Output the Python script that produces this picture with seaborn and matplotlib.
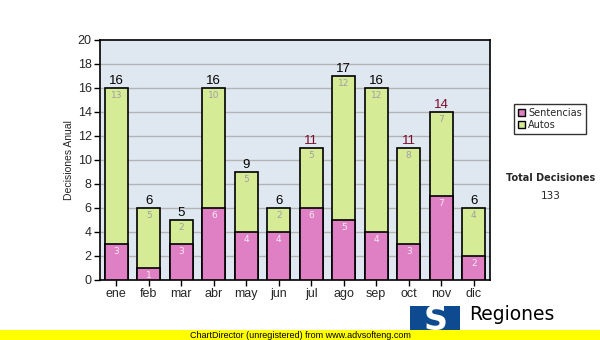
import matplotlib
matplotlib.use("Agg")
import matplotlib.pyplot as plt
import seaborn as sns
import pandas as pd
from matplotlib.patches import Rectangle

meses = ["ene", "feb", "mar", "abr", "may", "jun", "jul", "ago", "sep", "oct", "nov", "dic"]
sentencias = [3, 1, 3, 6, 4, 4, 6, 5, 4, 3, 7, 2]
autos = [13, 5, 2, 10, 5, 2, 5, 12, 12, 8, 7, 4]
y_ticks = [0, 2, 4, 6, 8, 10, 12, 14, 16, 18, 20]

totales = [s + a for s, a in zip(sentencias, autos)]
df = pd.DataFrame({"mes": meses, "Sentencias": sentencias, "Autos": autos, "Total": totales})

sns.set_style("white")
plt.rcParams["font.family"] = ["Liberation Sans", "DejaVu Sans"]

PINK = "#de80c3"
GREEN = "#d5eb96"
BG = "#dfe8f1"

fig = plt.figure(figsize=(6, 3.4), dpi=100)
fig.patch.set_facecolor("white")
ax = fig.add_axes([100 / 600, 60 / 340, 390 / 600, 240 / 340])
ax.set_facecolor(BG)

for t in y_ticks[1:-1]:
    ax.axhline(t, color="#b4b4b4", lw=1.0, zorder=1)

# stacked bars: totals (Autos on top) then Sentencias at the base
sns.barplot(data=df, x="mes", y="Total", color=GREEN, saturation=1, width=0.7,
            edgecolor="black", linewidth=1.2, ax=ax, zorder=2)
sns.barplot(data=df, x="mes", y="Sentencias", color=PINK, saturation=1, width=0.7,
            edgecolor="black", linewidth=1.2, ax=ax, zorder=3)

for i, (s, a, t) in enumerate(zip(sentencias, autos, totales)):
    ax.text(i, s - 0.25, str(s), ha="center", va="top", fontsize=6.5,
            color="#fbeaf6", family="DejaVu Sans", zorder=4)
    ax.text(i, t - 0.25, str(a), ha="center", va="top", fontsize=6.5,
            color="#a0a0a0", family="DejaVu Sans", zorder=4)
    col = "#7a0a2a" if t in (11, 14) else "black"
    ax.text(i, t + 0.12, str(t), ha="center", va="bottom", fontsize=9.5,
            color=col, zorder=4)

ax.set_xlim(-0.5, len(meses) - 0.5)
ax.set_ylim(0, 20)
ax.set_yticks(y_ticks)
ax.tick_params(axis="both", direction="out", length=4, width=1, color="black",
               labelsize=9, pad=2, left=True, bottom=True)
ax.set_xlabel("")
ax.set_ylabel("Decisiones Anual", fontsize=7.5, labelpad=3)
for sp in ax.spines.values():
    sp.set_visible(True)
    sp.set_color("black")
    sp.set_linewidth(1.2)

# legend
handles = [Rectangle((0, 0), 1, 1, facecolor=PINK, edgecolor="black", lw=1),
           Rectangle((0, 0), 1, 1, facecolor=GREEN, edgecolor="black", lw=1)]
leg = fig.legend(handles, ["Sentencias", "Autos"], loc="upper left",
                 bbox_to_anchor=(509 / 600, 1 - 99 / 340), frameon=True, fancybox=False,
                 edgecolor="black", handlelength=0.7, handleheight=0.7,
                 handletextpad=0.3, labelspacing=0.15, borderpad=0.45,
                 prop={"family": "DejaVu Sans", "size": 7})
leg.get_frame().set_linewidth(1.0)

fig.text(551 / 600, 1 - 178 / 340, "Total Decisiones", ha="center", va="center",
         fontsize=7, fontweight="bold", family="DejaVu Sans")
fig.text(551 / 600, 1 - 196 / 340, str(sum(totales)), ha="center", va="center",
         fontsize=7.5, family="DejaVu Sans")

# footer logo
fig.patches.append(Rectangle((410 / 600, 0), 50 / 600, 34 / 340, transform=fig.transFigure,
                             facecolor="#0d4a8f", edgecolor="none", zorder=1))
fig.text(436 / 600, 20 / 340, "S", ha="center", va="center", fontsize=24,
         fontweight="bold", color="white", family="DejaVu Sans", zorder=2)
fig.text(469 / 600, 1 - 315 / 340, "Regiones", ha="left", va="center", fontsize=13.5,
         family="DejaVu Sans", color="black", zorder=2)

# footer banner
fig.patches.append(Rectangle((0, 0), 1, 10 / 340, transform=fig.transFigure,
                             facecolor="#ffff00", edgecolor="none", zorder=3))
fig.text(300 / 600, 5 / 340, "ChartDirector (unregistered) from www.advsofteng.com",
         ha="center", va="center", fontsize=6.5, color="black", zorder=4)

fig.savefig("out.png", dpi=100, facecolor="white")
